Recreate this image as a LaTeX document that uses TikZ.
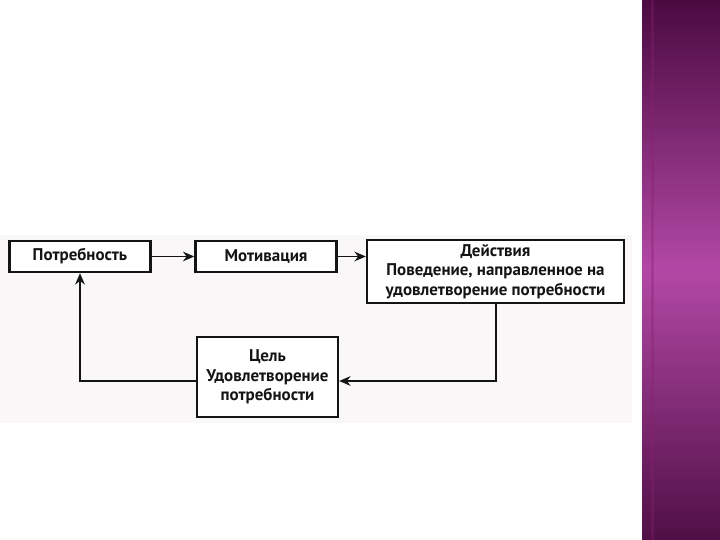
\documentclass[tikz,border=0pt]{standalone}
\usepackage{fontspec}
\setmainfont{PT Sans}
\usepackage{tikz}
\usetikzlibrary{arrows.meta,positioning}
\definecolor{scanbg}{RGB}{250, 247, 249}
\definecolor{boxline}{RGB}{20, 20, 20}
\definecolor{bartop}{RGB}{75, 10, 65}
\definecolor{barmid}{RGB}{178, 72, 165}
\definecolor{barbottom}{RGB}{80, 15, 70}
\definecolor{barstripe}{RGB}{140, 30, 110}
\tikzset{
blocktext/.style={
  align=center,
  font=\fontsize{17}{19.5}\selectfont\bfseries,
  text=boxline
},
block/.style={
  draw=boxline,
  line width=2.4pt,
  fill=white,
  inner sep=1pt,
  blocktext
},
arrow/.style={
  -{Stealth[length=4mm,width=3.4mm]},
  line width=2pt,
  draw=boxline
}
}
\begin{document}
\begin{tikzpicture}[x=1bp,y=-1bp]
  \useasboundingbox (0,0) rectangle (720,540);
  % scanned area and side bar
  \fill[scanbg] (0,235) rectangle (632,423);
  \shade[top color=bartop, bottom color=barbottom, middle color=barmid]
    (642,0) rectangle (720,540);
  \fill[barstripe, opacity=0.35] (651,0) rectangle (654,540);

  \node[block, minimum width=141bp, minimum height=31bp] (need) at (80,256.5) {Потребность};
  \node[block, minimum width=141bp, minimum height=31bp] (motive) at (266,256.5) {Мотивация};
  \node[block, minimum width=257bp, minimum height=63bp] (action) at (495.5,271.5)
    {Действия\\Поведение, направленное на\\удовлетворение потребности};
  \node[block, minimum width=141bp, minimum height=80bp] (goal) at (267.5,377)
    {Цель\\Удовлетворение\\потребности};

  \draw[arrow] (need) -- (motive);
  \draw[arrow] (motive) -- (action.west |- motive);
  \draw[arrow] (action.south) |- ([yshift=-4bp]goal.east);
  \draw[arrow] ([yshift=-4bp]goal.west) -| (need.south);
\end{tikzpicture}
\end{document}
